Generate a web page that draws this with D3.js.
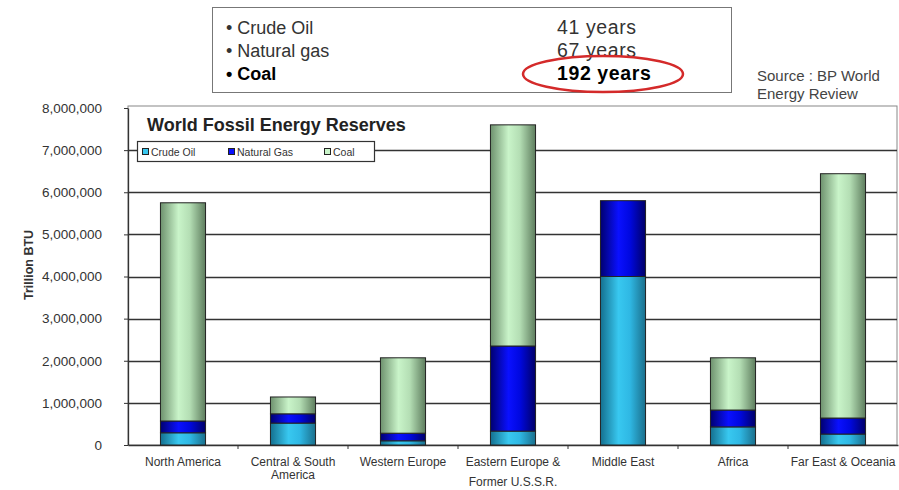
<!DOCTYPE html>
<html>
<head>
<meta charset="utf-8">
<script src="https://cdn.jsdelivr.net/npm/d3@7"></script>
<style>
  html, body { margin: 0; padding: 0; background: #fff; }
  svg { display: block; font-family: Arial, "Liberation Sans", sans-serif; }
</style>
</head>
<body>
<svg id="chart" width="899" height="490"></svg>
<script>
// Regions (x categories), with multi-line labels
const regions = ["North America", "Central & South America", "Western Europe",
  "Eastern Europe & Former U.S.S.R.", "Middle East", "Africa", "Far East & Oceania"];
const regionLabels = [["North America"], ["Central & South", "America"], ["Western Europe"],
  ["Eastern Europe &", "Former U.S.S.R."], ["Middle East"], ["Africa"], ["Far East & Oceania"]];

// Reserves in trillion BTU
const crudeOil   = [290000, 520000, 100000, 330000, 4000000, 430000, 260000];
const naturalGas = [280000, 220000, 180000, 2020000, 1800000, 400000, 380000];
const coal       = [5180000, 400000, 1790000, 5250000, 0, 1240000, 5800000];

const seriesNames = ["Crude Oil", "Natural Gas", "Coal"];
const yTicks = [0, 1000000, 2000000, 3000000, 4000000, 5000000, 6000000, 7000000, 8000000];

// Reserve lifetimes shown in the summary box
const lifeFuels = ["Crude Oil", "Natural gas", "Coal"];
const lifeYears = ["41 years", "67 years", "192 years"];

const svg = d3.select("#chart");
const defs = svg.append("defs");

// Cylinder-like shading for each series
const shades = {
  "Crude Oil":   ["#14708f", "#38c8f0", "#2fb8e4", "#1a6f8c"],
  "Natural Gas": ["#000070", "#0a10ff", "#0008e0", "#000068"],
  "Coal":        ["#6e916e", "#c9f4c9", "#b4deb4", "#5e7d5e"]
};
seriesNames.forEach((name, i) => {
  const g = defs.append("linearGradient").attr("id", "grad" + i)
    .attr("x1", "0%").attr("x2", "100%").attr("y1", "0%").attr("y2", "0%");
  const c = shades[name];
  g.append("stop").attr("offset", "0%").attr("stop-color", c[0]);
  g.append("stop").attr("offset", "40%").attr("stop-color", c[1]);
  g.append("stop").attr("offset", "65%").attr("stop-color", c[2]);
  g.append("stop").attr("offset", "100%").attr("stop-color", c[3]);
});

// Plot geometry
const plotLeft = 128, plotRight = 897, plotTop = 106, plotBottom = 445;

const x = d3.scaleBand().domain(regions).range([plotLeft, plotRight + 1]).paddingInner(0.59).paddingOuter(0.295);
const xTicksScale = d3.scaleBand().domain(regions).range([plotLeft, plotRight + 1]);
const y = d3.scaleLinear().domain([0, 8000000]).range([plotBottom, plotTop + 2]);

// Plot frame
svg.append("rect").attr("x", plotLeft).attr("y", plotTop).attr("width", plotRight - plotLeft).attr("height", plotBottom - plotTop)
  .attr("fill", "#fff").attr("stroke", "#888").attr("stroke-width", 1);

// Gridlines
svg.append("g").selectAll("line").data(yTicks.slice(1, -1)).join("line")
  .attr("x1", plotLeft).attr("x2", plotRight)
  .attr("y1", d => Math.round(y(d)) + 0.5).attr("y2", d => Math.round(y(d)) + 0.5)
  .attr("stroke", "#333").attr("stroke-width", 1.3);

// Y axis
const yAxis = d3.axisLeft(y).tickValues(yTicks).tickSize(4).tickSizeOuter(0)
  .tickFormat(d3.format(","));
const yg = svg.append("g").attr("transform", `translate(${plotLeft},0)`).call(yAxis);
yg.select(".domain").attr("stroke", "#333").attr("stroke-width", 1.3);
yg.selectAll(".tick line").attr("stroke", "#333");
yg.selectAll(".tick text").attr("x", -26).attr("font-size", 13.5).attr("fill", "#333")
  .attr("font-family", "Arial, 'Liberation Sans', sans-serif");

// X axis
const xAxis = d3.axisBottom(xTicksScale).tickSize(0).tickFormat("");
const xg = svg.append("g").attr("transform", `translate(0,${plotBottom})`).call(xAxis);
xg.select(".domain").attr("stroke", "#333").attr("stroke-width", 1.5);
xg.selectAll(".tick").remove();
xg.selectAll("line.bt").data(regions.slice(1)).join("line").attr("class", "bt")
  .attr("x1", d => xTicksScale(d)).attr("x2", d => xTicksScale(d))
  .attr("y1", 0).attr("y2", 4).attr("stroke", "#333");

// Category labels
const lab = svg.append("g").attr("font-size", 12).attr("fill", "#333").attr("text-anchor", "middle");
regions.forEach((r, i) => {
  const cx = xTicksScale(r) + xTicksScale.bandwidth() / 2;
  const lines = regionLabels[i];
  const t = lab.append("text").attr("x", cx).attr("y", 466);
  lines.forEach((ln, j) => {
    t.append("tspan").attr("x", cx).attr("dy", j === 0 ? 0 : (i === 3 ? 20 : 12.5)).text(ln);
  });
});

// Stacked bars
const table = regions.map((r, i) => ({
  region: r, "Crude Oil": crudeOil[i], "Natural Gas": naturalGas[i], "Coal": coal[i]
}));
const stack = d3.stack().keys(seriesNames)(table);
const bars = svg.append("g");
stack.forEach((layer, si) => {
  bars.append("g").selectAll("rect").data(layer.filter(d => d[1] > d[0])).join("rect")
    .attr("x", d => x(d.data.region))
    .attr("width", x.bandwidth())
    .attr("y", d => y(d[1]))
    .attr("height", d => y(d[0]) - y(d[1]))
    .attr("fill", `url(#grad${si})`)
    .attr("stroke", "#222").attr("stroke-width", 1);
});

// Chart title
svg.append("text").attr("x", 147).attr("y", 131).attr("font-size", 18).attr("font-weight", "bold")
  .attr("fill", "#222").text("World Fossil Energy Reserves");

// Legend
const lg = svg.append("g");
lg.append("rect").attr("x", 137.5).attr("y", 141.5).attr("width", 237).attr("height", 20)
  .attr("fill", "#fff").attr("stroke", "#333").attr("stroke-width", 1.2);
const legX = [142, 228, 324];
seriesNames.forEach((name, i) => {
  lg.append("rect").attr("x", legX[i] + 0.5).attr("y", 148.5).attr("width", 6).attr("height", 6)
    .attr("fill", shades[name][1]).attr("stroke", "#222");
  lg.append("text").attr("x", legX[i] + 9).attr("y", 155.5).attr("font-size", 10.5).attr("fill", "#333")
    .text(name);
});

// Y axis title
svg.append("text").attr("transform", "translate(33,265) rotate(-90)")
  .attr("text-anchor", "middle").attr("font-size", 12.5).attr("font-weight", "bold")
  .attr("fill", "#333").text("Trillion BTU");

// Reserve lifetime box
svg.append("rect").attr("x", 212.5).attr("y", 7.5).attr("width", 519).attr("height", 85)
  .attr("fill", "#fff").attr("stroke", "#777").attr("stroke-width", 1);
const lifeY = [34, 57, 80];
lifeFuels.forEach((f, i) => {
  const bold = i === 2 ? "bold" : "normal";
  svg.append("text").attr("x", 226).attr("y", lifeY[i]).attr("font-size", 18).attr("font-weight", bold)
    .attr("fill", i === 2 ? "#000" : "#333").text("\u2022 " + f);
  svg.append("text").attr("x", 557).attr("y", lifeY[i]).attr("font-size", 19.5).attr("font-weight", bold)
    .attr("letter-spacing", 0.6)
    .attr("fill", i === 2 ? "#000" : "#333").text(lifeYears[i]);
});
svg.append("ellipse").attr("cx", 603).attr("cy", 74).attr("rx", 80).attr("ry", 18)
  .attr("fill", "none").attr("stroke", "#d42a2a").attr("stroke-width", 2.5);

// Source note
svg.append("text").attr("x", 757).attr("y", 81).attr("font-size", 15).attr("fill", "#444")
  .text("Source : BP World");
svg.append("text").attr("x", 757).attr("y", 99).attr("font-size", 15).attr("fill", "#444")
  .text("Energy Review");
</script>
</body>
</html>
